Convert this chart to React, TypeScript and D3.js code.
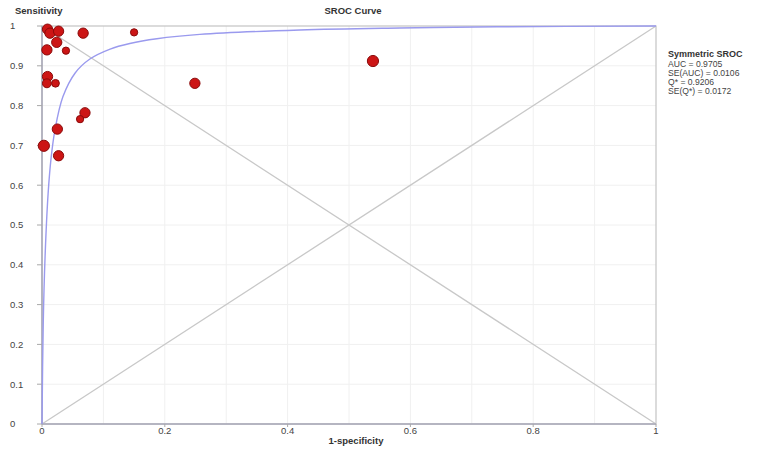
import React from 'react';
import * as d3 from 'd3';

// study points (1-specificity, sensitivity)
const fpr = [0.009, 0.013, 0.027, 0.067, 0.150, 0.024, 0.008, 0.039, 0.009, 0.008, 0.022, 0.249, 0.070, 0.062, 0.025, 0.003, 0.027, 0.539];
const sens = [0.992, 0.982, 0.987, 0.982, 0.984, 0.959, 0.940, 0.938, 0.873, 0.856, 0.856, 0.856, 0.782, 0.766, 0.741, 0.699, 0.674, 0.912];
const weights = [80, 80, 80, 80, 40, 80, 80, 40, 80, 60, 45, 80, 80, 40, 80, 95, 80, 95];

// symmetric SROC curve
const curveX = [0, 0.002, 0.005, 0.010, 0.015, 0.021, 0.034, 0.054, 0.078, 0.111, 0.143, 0.187, 0.257, 0.420, 0.583, 0.741, 1];
const curveY = [0, 0.25, 0.42, 0.58, 0.671, 0.738, 0.822, 0.882, 0.917, 0.942, 0.956, 0.968, 0.979, 0.990, 0.995, 0.998, 1];

const xTicks = [0, 0.2, 0.4, 0.6, 0.8, 1];
const yTicks = [0, 0.1, 0.2, 0.3, 0.4, 0.5, 0.6, 0.7, 0.8, 0.9, 1];
const gridTicks = [0.1, 0.2, 0.3, 0.4, 0.5, 0.6, 0.7, 0.8, 0.9];

const legendLines = ['AUC = 0.9705', 'SE(AUC) = 0.0106', 'Q* = 0.9206', 'SE(Q*) = 0.0172'];

const W = 783, H = 449;
const margin = { top: 26, right: 127, bottom: 25, left: 42 };

export default function App() {
  const x = d3.scaleLinear().domain([0, 1]).range([margin.left, W - margin.right]);
  const y = d3.scaleLinear().domain([0, 1]).range([H - margin.bottom, margin.top]);
  const r = d3.scaleSqrt().domain([0, 95]).range([0, 5.6]);

  const line = d3.line<number>()
    .x((d, i) => x(curveX[i]))
    .y((d, i) => y(curveY[i]))
    .curve(d3.curveCatmullRom.alpha(0.5));

  const font = 'Arial, "Liberation Sans", sans-serif';
  const x0 = x(0), x1 = x(1), y0 = y(0), y1 = y(1);

  return (
    <svg width={W} height={H} style={{ position: 'absolute', left: 0, top: 0, background: '#fff' }} fontFamily={font}>
      {/* grid */}
      <g stroke="#f0f0f0" strokeWidth={1}>
        {gridTicks.map(t => (
          <line key={'gx' + t} x1={x(t)} x2={x(t)} y1={y0} y2={y1} />
        ))}
        {gridTicks.map(t => (
          <line key={'gy' + t} x1={x0} x2={x1} y1={y(t)} y2={y(t)} />
        ))}
      </g>

      {/* frame */}
      <rect x={x0} y={y1} width={x1 - x0} height={y0 - y1} fill="none" stroke="#c4c4c4" strokeWidth={1.2} />

      {/* diagonals */}
      <line x1={x0} y1={y0} x2={x1} y2={y1} stroke="#c8c8c8" strokeWidth={1.3} />
      <line x1={x0} y1={y1} x2={x1} y2={y0} stroke="#c8c8c8" strokeWidth={1.3} />

      {/* axes */}
      <line x1={x0} x2={x0} y1={y0} y2={y1} stroke="#a8a8b8" strokeWidth={1.5} />
      <line x1={x0} x2={x1} y1={y0} y2={y0} stroke="#a8a8b8" strokeWidth={1.5} />

      {yTicks.map(t => (
        <g key={'yt' + t}>
          <line x1={x0 - 5} x2={x0} y1={y(t)} y2={y(t)} stroke="#a8a8a8" />
          <text x={10} y={y(t)} dy="0.35em" fontSize={9.5} fill="#444">{d3.format('~g')(t)}</text>
        </g>
      ))}
      {xTicks.map(t => (
        <g key={'xt' + t}>
          <line x1={x(t)} x2={x(t)} y1={y0} y2={y0 + 3} stroke="#a8a8a8" />
          <text x={x(t)} y={y0 + 10} textAnchor="middle" fontSize={9.5} fill="#444">{d3.format('~g')(t)}</text>
        </g>
      ))}

      {/* SROC curve */}
      <path d={line(curveX) || ''} fill="none" stroke="#9a9aee" strokeWidth={1.4} />

      {/* studies */}
      {fpr.map((f, i) => (
        <circle key={'p' + i} cx={x(f)} cy={y(sens[i])} r={r(weights[i])}
          fill="#cc1515" stroke="#8a0a0a" strokeWidth={1} />
      ))}

      {/* titles */}
      <text x={15} y={14} fontSize={9.5} fontWeight="bold" fill="#333">Sensitivity</text>
      <text x={353} y={14} textAnchor="middle" fontSize={9.5} fontWeight="bold" fill="#333">SROC Curve</text>
      <text x={356} y={444} textAnchor="middle" fontSize={9.5} fontWeight="bold" fill="#333">1-specificity</text>

      {/* legend */}
      <text x={668} y={57} fontSize={9} fontWeight="bold" fill="#333">Symmetric SROC</text>
      {legendLines.map((s, i) => (
        <text key={s} x={668} y={66.5 + i * 9} fontSize={8.6} fill="#444">{s}</text>
      ))}
    </svg>
  );
}
